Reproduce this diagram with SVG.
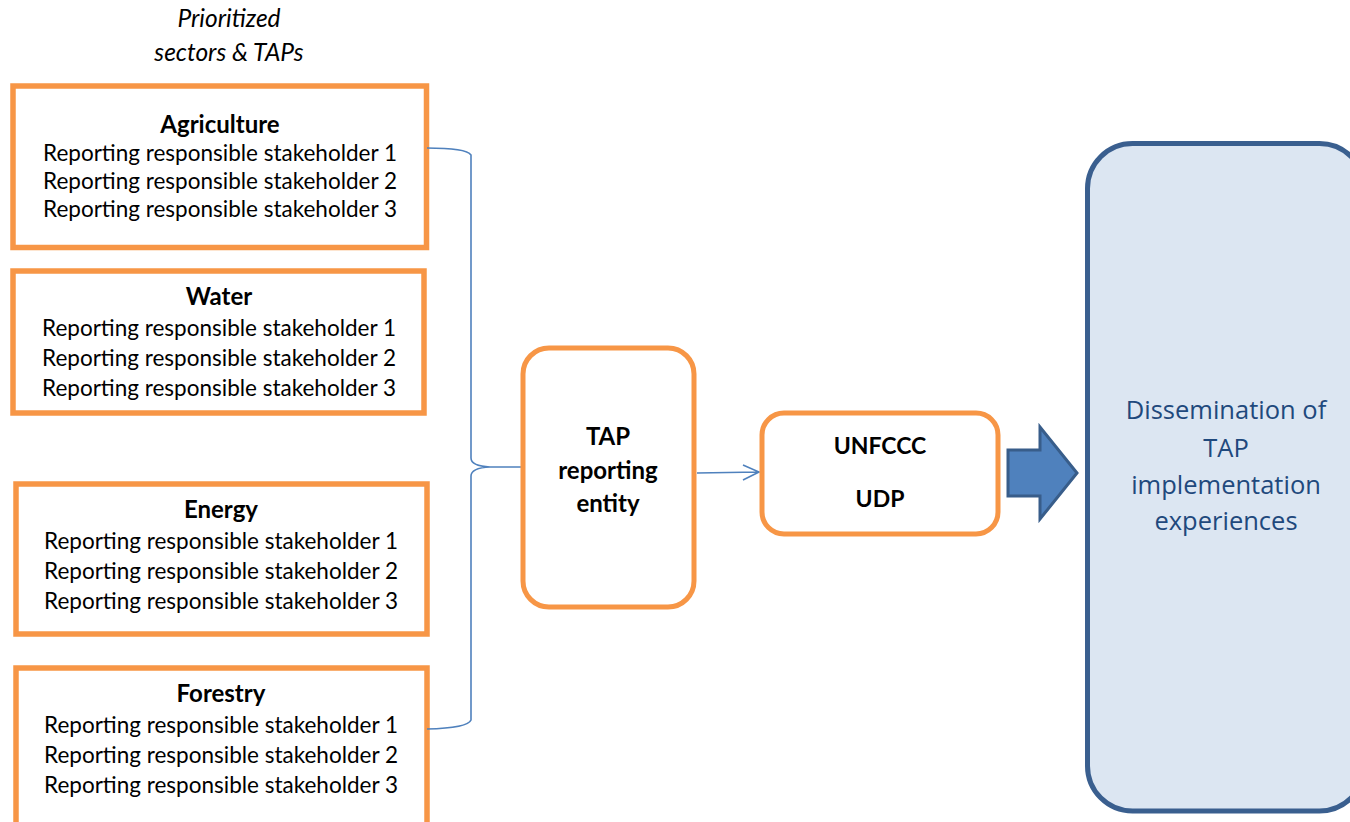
<svg xmlns="http://www.w3.org/2000/svg" width="1350" height="822" viewBox="0 0 1350 822">
<style>
.sector{fill:#fff;stroke:#f79646;stroke-width:5.5}
.rbox{fill:#fff;stroke:#f79646;stroke-width:5}
.t{font-family:Lato,"Open Sans","Liberation Sans",sans-serif;font-size:22.5px;fill:#000;text-anchor:middle}
.b{font-weight:bold;font-size:24px}
.i{font-style:italic;font-size:24.5px}
.big{font-family:"Open Sans","Liberation Sans",sans-serif;font-size:25.5px;fill:#1f497d;text-anchor:middle}
.conn{fill:none;stroke:#4f81bd;stroke-width:1.6}
</style>
<rect width="1350" height="822" fill="#fff"/>
<g id="title">
<text class="t i" x="229" y="27">Prioritized</text>
<text class="t i" x="229" y="61">sectors &amp; TAPs</text>
</g>
<g id="agriculture">
<rect class="sector" x="13" y="86" width="413.5" height="161.5"/>
<text class="t b" x="220" y="133">Agriculture</text>
<text class="t" x="220" y="161">Reporting responsible stakeholder 1</text>
<text class="t" x="220" y="189">Reporting responsible stakeholder 2</text>
<text class="t" x="220" y="217">Reporting responsible stakeholder 3</text>
</g>
<g id="water">
<rect class="sector" x="13" y="271" width="411" height="142"/>
<text class="t b" x="219" y="305">Water</text>
<text class="t" x="219" y="336">Reporting responsible stakeholder 1</text>
<text class="t" x="219" y="366">Reporting responsible stakeholder 2</text>
<text class="t" x="219" y="396">Reporting responsible stakeholder 3</text>
</g>
<g id="energy">
<rect class="sector" x="16" y="484" width="411" height="150"/>
<text class="t b" x="221" y="518">Energy</text>
<text class="t" x="221" y="549">Reporting responsible stakeholder 1</text>
<text class="t" x="221" y="579">Reporting responsible stakeholder 2</text>
<text class="t" x="221" y="609">Reporting responsible stakeholder 3</text>
</g>
<g id="forestry">
<rect class="sector" x="16" y="668" width="411" height="170"/>
<text class="t b" x="221" y="702">Forestry</text>
<text class="t" x="221" y="733">Reporting responsible stakeholder 1</text>
<text class="t" x="221" y="763">Reporting responsible stakeholder 2</text>
<text class="t" x="221" y="793">Reporting responsible stakeholder 3</text>
</g>
<g id="connectors">
<path class="conn" d="M427,148 Q466,148 471,155 L471,458 Q471,466 490,467 L521,467 M490,467 Q471,468 471,476 L471,720 Q468,728 427,729"/>
<path class="conn" d="M697,473 L759,472 M743,465 L759,472 L743,480"/>
<polygon points="1008,450 1040,450 1040,427 1077,473 1040,519 1040,496 1008,496" fill="#4f81bd" stroke="#385d8a" stroke-width="3" stroke-linejoin="miter"/>
</g>
<g id="tap">
<rect class="rbox" x="523" y="348" width="171" height="259" rx="26"/>
<text class="t b" x="608" y="445">TAP</text>
<text class="t b" x="608" y="479">reporting</text>
<text class="t b" x="608" y="512">entity</text>
</g>
<g id="unfccc">
<rect class="rbox" x="762" y="413" width="236" height="121" rx="22"/>
<text class="t b" x="880" y="454" style="font-size:23px">UNFCCC</text>
<text class="t b" x="880" y="507" style="font-size:23px">UDP</text>
</g>
<g id="dissemination">
<rect x="1087.5" y="143.5" width="277" height="667.5" rx="45" fill="#dce6f2" stroke="#3a5f8f" stroke-width="5"/>
<text class="big" x="1226" y="419">Dissemination of</text>
<text class="big" x="1226" y="457">TAP</text>
<text class="big" x="1226" y="494">implementation</text>
<text class="big" x="1226" y="530">experiences</text>
</g>
</svg>
